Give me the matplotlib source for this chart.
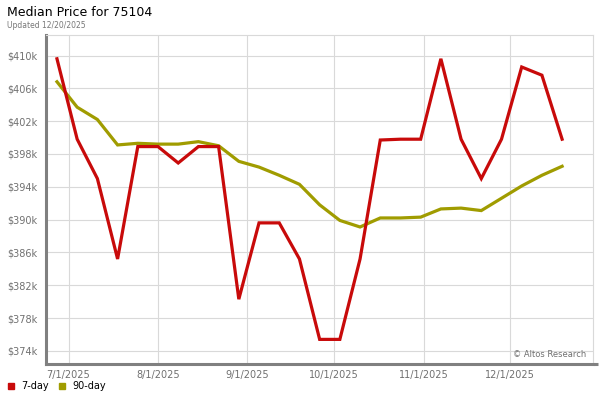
import matplotlib.pyplot as plt
import matplotlib.dates as mdates
import numpy as np
import pandas as pd

# weekly points, 6/27/2025 .. 12/19/2025
dates = pd.date_range("2025-06-27", periods=26, freq="7D")

# values in $k
price_7day = [409.6, 399.8, 395.0, 385.2, 398.9, 398.9, 396.9, 398.9, 398.9, 380.3,
              389.6, 389.6, 385.2, 375.4, 375.4, 385.2, 399.7, 399.8, 399.8, 409.6,
              399.8, 395.0, 399.8, 408.6, 407.6, 399.8]
price_90day = [406.8, 403.7, 402.2, 399.1, 399.3, 399.2, 399.2, 399.5, 399.0, 397.1,
               396.4, 395.4, 394.3, 391.8, 389.9, 389.1, 390.2, 390.2, 390.3, 391.3,
               391.4, 391.1, 392.6, 394.1, 395.4, 396.5]

y_ticks = [374, 378, 382, 386, 390, 394, 398, 402, 406, 410]
x_ticks = ["2025-07-01", "2025-08-01", "2025-09-01", "2025-10-01", "2025-11-01", "2025-12-01"]

red = '#c80a0a'
olive = '#a09c00'
tick_gray = '#707070'

fig = plt.figure(figsize=(6, 4), dpi=100)
ax = fig.add_axes([46/600, 1-364/400, (593-46)/600, (364-35)/400])

ax.plot(dates, price_90day, color=olive, linewidth=2.3, solid_joinstyle='miter', zorder=3)
ax.plot(dates, price_7day, color=red, linewidth=2.3, solid_joinstyle='miter', zorder=4)

ax.set_xlim(dates[0] - pd.Timedelta(days=3.8), dates[-1] + pd.Timedelta(days=10.7))
ax.set_ylim(372.4, 412.5)

ax.set_yticks(y_ticks)
ax.set_yticklabels(['$%dk' % v for v in y_ticks])
ax.set_xticks(pd.to_datetime(x_ticks))
ax.xaxis.set_major_formatter(mdates.DateFormatter('%-m/%-d/%Y'))

ax.grid(True, color='#d9d9d9', linewidth=0.8)
ax.set_axisbelow(True)
ax.tick_params(length=0, labelsize=7, colors=tick_gray, pad=6)
ax.tick_params(axis='x', pad=4)

# frame: heavy gray left/bottom, light top/right
for s in ['left', 'bottom']:
    ax.spines[s].set_color('#808080')
    ax.spines[s].set_linewidth(2.2)
for s in ['top', 'right']:
    ax.spines[s].set_color('#d9d9d9')
    ax.spines[s].set_linewidth(0.8)
ax.plot([1.0, 1.01], [0, 0], transform=ax.transAxes, color='#808080',
        linewidth=2.2, clip_on=False, solid_capstyle='butt')

ax.text(0.988, 0.03, '\u00a9 Altos Research', transform=ax.transAxes,
        ha='right', va='center', fontsize=6, color='#707070')

fig.text(7/600, 1-12/400, 'Median Price for 75104', fontsize=9, va='center', ha='left')
fig.text(7/600, 1-25/400, 'Updated 12/20/2025', fontsize=5.5, va='center', ha='left', color='#777777')

# legend at bottom
leg_y = 1 - 386/400
fig.patches.append(plt.Rectangle((8/600, leg_y - 3/400), 6/600, 6/400,
                                 transform=fig.transFigure, color=red))
fig.text(21/600, leg_y, '7-day', fontsize=7, va='center')
fig.patches.append(plt.Rectangle((59/600, leg_y - 3/400), 6/600, 6/400,
                                 transform=fig.transFigure, color=olive))
fig.text(72/600, leg_y, '90-day', fontsize=7, va='center')

fig.savefig('out.png', dpi=100)
